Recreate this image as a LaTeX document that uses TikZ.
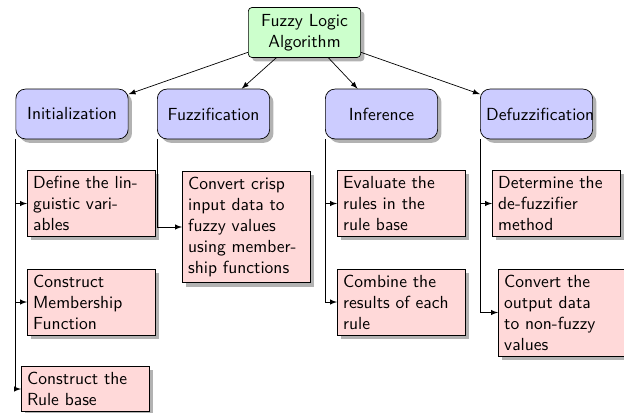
\documentclass[tikz,border=0pt]{standalone}
\usetikzlibrary{shadows,arrows}
\begin{document}
\begin{tikzpicture}[x=0.57143pt,y=-0.57143pt, font=\sffamily,
  shad/.style={drop shadow={shadow xshift=2.2pt, shadow yshift=-2.2pt, fill=black, opacity=0.3}},
  rootbox/.style={draw, fill=green!20, rounded corners=2pt, text width=57.5pt, align=center, minimum height=28.5pt, shad},
  levelbox/.style={draw, fill=blue!20, rounded corners=5.5pt, text width=57.5pt, align=center, minimum height=28.5pt, shad},
  leafbox/.style={draw, fill=red!15, text width=66.5pt, align=left, anchor=west, shad},
  link/.style={-latex},
  ]
\useasboundingbox (0,0) rectangle (624,412);
\clip (0,0) rectangle (624,412);
\node[rootbox] (root) at (304.5,32.5) {Fuzzy Logic Algorithm};
\node[levelbox] (init) at (72,114) {Initialization};
\node[levelbox] (fuzz) at (213.5,114) {Fuzzification};
\node[levelbox] (inf) at (381.5,114) {Inference};
\node[levelbox] (defuzz) at (536.5,114) {Defuzzification};

\node[leafbox] (define) at (27,203.5) {Define the lin-\\guistic vari-\\ables};
\node[leafbox] (member) at (27,302) {Construct\\Membership\\Function};
\node[leafbox] (rules) at (21,389) {Construct the\\Rule base};
\node[leafbox] (crisp) at (182,227) {Convert crisp\\input data to\\fuzzy values\\using member-\\ship functions};
\node[leafbox] (eval) at (337,203.5) {Evaluate the\\rules in the\\rule base};
\node[leafbox] (combine) at (337,302) {Combine the\\results of each\\rule};
\node[leafbox] (method) at (492,203.5) {Determine the\\de-fuzzifier\\method};
\node[leafbox] (output) at (498,312.5) {Convert the\\output data\\to non-fuzzy\\values};

\draw[link] (root) -- (init);
\draw[link] (root) -- (fuzz);
\draw[link] (root) -- (inf);
\draw[link] (root) -- (defuzz);

\draw[link] (init.south west) |- (define.west);
\draw[link] (init.south west) |- (member.west);
\draw[link] (init.south west) |- (rules.west);
\draw[link] (fuzz.south west) |- (crisp.west);
\draw[link] (inf.south west) |- (eval.west);
\draw[link] (inf.south west) |- (combine.west);
\draw[link] (defuzz.south west) |- (method.west);
\draw[link] (defuzz.south west) |- (output.west);
\end{tikzpicture}
\end{document}
